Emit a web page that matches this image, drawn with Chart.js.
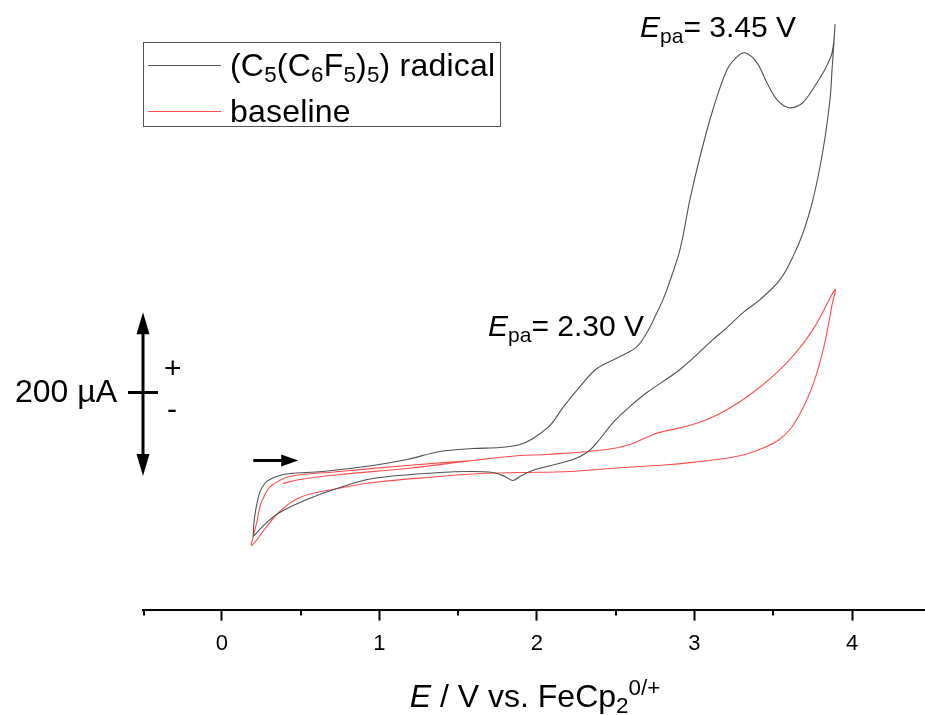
<!DOCTYPE html>
<html lang="en">
<head>
    <meta charset="UTF-8">
    <title>Cyclic voltammogram</title>
    <script src="https://cdn.jsdelivr.net/npm/chart.js"></script>
    <style>
        body { margin: 0; background: #fff; }
        #wrap { position: relative; width: 925px; height: 715px; font-family: "Liberation Sans", Arial, sans-serif; color: #000; }
        #myChart { position: absolute; left: 0; top: 0; }
        .lbl { position: absolute; font-size: 30px; line-height: 30px; white-space: nowrap; }
        .big { font-size: 32px; line-height: 32px; }
        .lbl sub, .lbl sup { font-size: 0.7em; line-height: 0; }
        .lbl sub { vertical-align: -0.28em; }
        .lbl sup { vertical-align: 0.55em; }
        #legend { position: absolute; left: 143px; top: 42px; width: 358px; height: 85px; border: 1px solid #555; box-sizing: border-box; }
        .sample { position: absolute; left: 4px; width: 73px; height: 0; border-top: 1px solid; }
    </style>
</head>
<body>
    <div id="wrap">
        <canvas id="myChart" width="925" height="715"></canvas>
        <div id="legend">
            <div class="sample" style="top:22px; border-color:#555;"></div>
            <div class="sample" style="top:68px; border-color:#ff4d4d;"></div>
        </div>
        <div class="lbl big" style="left:230px; top:49px; letter-spacing:0.2px;">(C<sub>5</sub>(C<sub>6</sub>F<sub>5</sub>)<sub>5</sub>) radical</div>
        <div class="lbl big" style="left:230px; top:95px; letter-spacing:0.2px;">baseline</div>
        <div class="lbl" style="left:640px; top:11.6px;"><i>E</i><sub>pa</sub>= 3.45 V</div>
        <div class="lbl" style="left:488px; top:310.6px;"><i>E</i><sub>pa</sub>= 2.30 V</div>
        <div class="lbl big" style="right:808px; top:375px;">200 µA</div>
        <div class="lbl" style="left:164px; top:352.6px;">+</div>
        <div class="lbl" style="left:167px; top:393.6px;">-</div>
        <div class="lbl big" style="left:535px; top:680px; transform:translateX(-50%);"><i>E</i> / V vs. FeCp<sub>2</sub><sup>0/+</sup></div>
    </div>

    <script>
        // potential (V vs. FeCp2 0/+) and current (µA)
        const radicalE = [0.20, 0.203, 0.216, 0.241, 0.273, 0.305, 0.368, 0.432, 0.641, 0.959, 1.175, 1.384, 1.594, 1.765, 1.892, 1.975,
            2.083, 2.165, 2.273, 2.381, 2.527, 2.635, 2.698, 2.762, 2.800, 2.825, 2.908, 2.971, 3.035, 3.111, 3.206, 3.270, 3.321,
            3.397, 3.460, 3.524, 3.600, 3.670, 3.714, 3.765, 3.816, 3.873, 3.892,
            3.873, 3.860, 3.816, 3.752, 3.689, 3.625, 3.543, 3.416, 3.308, 3.206, 3.117, 2.908, 2.698, 2.590, 2.483, 2.381, 2.317,
            2.229, 2.063, 1.956, 1.892, 1.848, 1.797, 1.721, 1.575, 1.384, 0.959, 0.749, 0.540, 0.368, 0.286, 0.20];
        const radicalI = [-81.7, -67.1, -48.8, -28, -17.1, -12.2, -7.3, -4.9, -2.4, 4.9, 12.2, 22, 25.6, 26.8, 30.5, 37.8,
            53.7, 75.6, 101.2, 123.2, 137.8, 150, 167.1, 191.5, 207.3, 219.5, 268.3, 329.3, 381.7, 435.4, 487.8, 503.7, 508.5,
            496.3, 471.9, 451.2, 441.5, 445.1, 453.7, 468.3, 484.1, 508.5, 542.7,
            487.8, 451.2, 390.2, 329.3, 289, 259.8, 231.7, 207.3, 191.5, 173.2, 158.5, 122, 93.9, 76.8, 57.3, 32.9, 20.7,
            12.2, 3.7, -2.4, -8.5, -13.4, -8.5, -3.7, -2.4, -3.7, -11, -22, -36.6, -52.4, -64.6, -81.7];

        const baselineE = [0.387, 0.495, 0.749, 1.175, 1.594, 1.892, 2.063, 2.444, 2.590, 2.737, 2.800, 2.990, 3.162, 3.371, 3.587, 3.752, 3.892,
            3.873, 3.854, 3.829, 3.797, 3.759, 3.714, 3.663, 3.606, 3.530, 3.429, 3.321, 3.194, 3.035, 2.844, 2.654, 2.463, 2.209,
            1.892, 1.638, 1.384, 0.959, 0.705, 0.495, 0.368, 0.286, 0.190,
            0.203, 0.222, 0.241, 0.260, 0.292, 0.324, 0.432, 0.749, 1.175, 1.594];
        const baselineI = [-17.1, -12.2, -6.1, 1.2, 11, 17.1, 18.3, 24.4, 30.5, 42.7, 46.3, 54.9, 68.3, 93.9, 130.5, 170.7, 219.5,
            201.2, 180.5, 156.1, 131.7, 107.3, 85.4, 65.9, 48.8, 35.4, 25.6, 18.3, 13.4, 9.8, 6.1, 3.7, 1.2, -2.4,
            -3.7, -4.9, -8.5, -15.9, -24.4, -34.1, -51.2, -69.5, -92.7,
            -79.3, -64.6, -46.3, -36.6, -24.4, -18.3, -8.5, -2.4, 4.9, 11];

        const minorTicks = [-0.5, 0.5, 1.5, 2.5, 3.5];

        function toPoints(xs, ys) {
            return xs.map((x, i) => ({ x: x, y: ys[i] }));
        }

        function arrowHead(ctx, x, y, dx, dy, len, half) {
            ctx.beginPath();
            ctx.moveTo(x, y);
            ctx.lineTo(x - dx * len - dy * half, y - dy * len + dx * half);
            ctx.lineTo(x - dx * len + dy * half, y - dy * len - dx * half);
            ctx.closePath();
            ctx.fill();
        }

        // scale bar, scan direction arrow and minor ticks
        const extras = {
            id: 'extras',
            afterDatasetsDraw(chart) {
                const ctx = chart.ctx;
                const xs = chart.scales.x, ys = chart.scales.y;
                ctx.save();
                ctx.fillStyle = '#000';
                ctx.strokeStyle = '#000';
                ctx.lineWidth = 3;

                // 200 µA bar
                const bx = xs.getPixelForValue(-0.5);
                const top = ys.getPixelForValue(192), bot = ys.getPixelForValue(-8), mid = ys.getPixelForValue(94);
                ctx.beginPath();
                ctx.moveTo(bx, top + 18); ctx.lineTo(bx, bot - 18);
                ctx.moveTo(bx - 15, mid); ctx.lineTo(bx + 15, mid);
                ctx.stroke();
                arrowHead(ctx, bx, top, 0, -1, 22, 6.5);
                arrowHead(ctx, bx, bot, 0, 1, 22, 6.5);

                // scan direction
                const ay = ys.getPixelForValue(11);
                const ax0 = xs.getPixelForValue(0.2), ax1 = xs.getPixelForValue(0.485);
                ctx.beginPath();
                ctx.moveTo(ax0, ay); ctx.lineTo(ax1 - 12, ay);
                ctx.stroke();
                arrowHead(ctx, ax1, ay, 1, 0, 17, 6);

                // minor ticks
                ctx.lineWidth = 2;
                const b = chart.chartArea.bottom;
                ctx.beginPath();
                minorTicks.forEach(v => {
                    const px = Math.round(xs.getPixelForValue(v)) + (v === -0.5 ? 1 : 0);
                    ctx.moveTo(px, b); ctx.lineTo(px, b + 6);
                });
                ctx.stroke();
                ctx.restore();
            }
        };

        const ctx = document.getElementById('myChart').getContext('2d');
        const myChart = new Chart(ctx, {
            type: 'scatter',
            data: {
                datasets: [{
                    label: 'radical',
                    data: toPoints(radicalE, radicalI),
                    borderColor: '#505050',
                    borderWidth: 1.1,
                    showLine: true,
                    pointRadius: 0,
                    tension: 0.35
                }, {
                    label: 'baseline',
                    data: toPoints(baselineE, baselineI),
                    borderColor: '#ff4d4d',
                    borderWidth: 1.1,
                    showLine: true,
                    pointRadius: 0,
                    tension: 0.4
                }]
            },
            options: {
                responsive: false,
                animation: false,
                layout: { padding: { left: 143, right: 0, top: 0, bottom: 48 } },
                plugins: { legend: { display: false }, tooltip: { enabled: false } },
                scales: {
                    x: {
                        type: 'linear',
                        min: -0.5,
                        max: 4.463,
                        border: { display: true, color: '#000', width: 2 },
                        grid: {
                            drawOnChartArea: false,
                            tickLength: 11,
                            tickWidth: 2,
                            tickColor: c => Number.isInteger(c.tick.value) ? '#000' : 'rgba(0,0,0,0)'
                        },
                        ticks: {
                            stepSize: 0.5,
                            includeBounds: false,
                            autoSkip: false,
                            maxRotation: 0,
                            padding: 10,
                            color: '#000',
                            font: { family: '"Liberation Sans", Arial, sans-serif', size: 22 },
                            callback: v => Number.isInteger(v) ? String(v) : ''
                        }
                    },
                    y: {
                        display: false,
                        min: -171,
                        max: 573
                    }
                }
            },
            plugins: [extras]
        });
    </script>
</body>
</html>
